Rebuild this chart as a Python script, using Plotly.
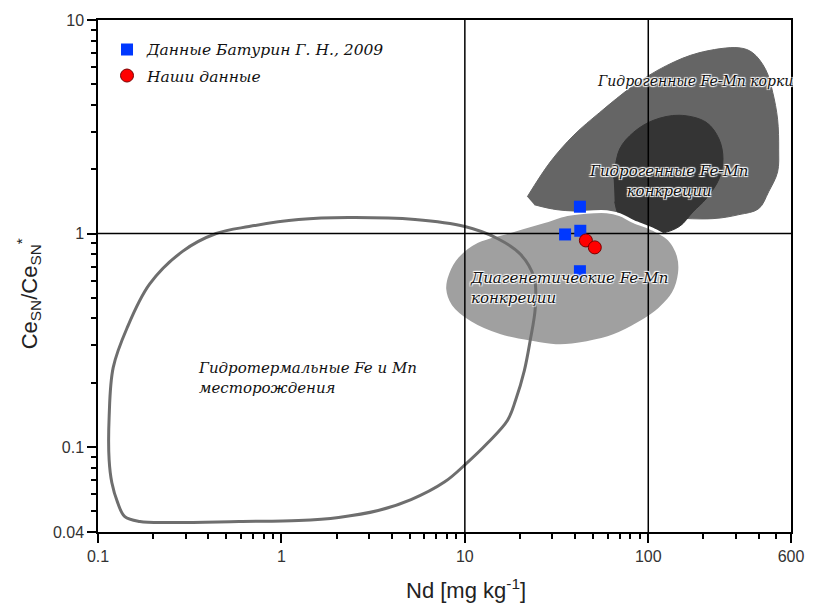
import numpy as np
import plotly.graph_objects as go

# ---- data ----
# Baturin G. N., 2009 (blue squares)
bat_nd = [42.4, 35.2, 42.6, 42.4]
bat_ce = [1.335, 0.99, 1.03, 0.666]
# our data (red circles)
our_nd = [45.7, 51.1]
our_ce = [0.928, 0.861]

# field outlines (Nd, Ce/Ce*)
crust_nd = [21.9, 29.2, 39.3, 54.4, 83.2, 125.5, 189, 312, 371, 437, 477, 507, 514, 507, 453, 400, 312, 225, 111, 67.2, 50.5, 31.8, 23.9]
crust_ce = [1.486, 2.162, 2.89, 3.69, 4.93, 6.11, 7.02, 7.41, 7.02, 5.85, 4.58, 3.43, 2.485, 1.943, 1.568, 1.307, 1.226, 1.174, 1.200, 1.266, 1.266, 1.293, 1.364]

nod_nd = [64.8, 69.8, 83.2, 106.7, 147.6, 206.7, 243, 255.5, 243, 206.7, 175.7, 147.6, 115, 89.6, 71.6, 65.6]
nod_ce = [1.80, 2.485, 2.98, 3.39, 3.58, 3.32, 2.77, 2.23, 1.80, 1.455, 1.266, 1.078, 1.0, 1.022, 1.137, 1.409]

diag_nd = [7.77, 8.07, 9.14, 11.7, 17.7, 27.1, 36.1, 50.5, 59.4, 69.8, 83.2, 106.7, 130, 146, 148, 137, 115, 89.6, 64.8, 46.3, 33.0, 23.9, 15.6, 10.75, 8.38]
diag_ce = [0.549, 0.652, 0.782, 0.918, 1.022, 1.137, 1.226, 1.266, 1.266, 1.226, 1.137, 1.044, 0.938, 0.782, 0.652, 0.526, 0.443, 0.3815, 0.332, 0.308, 0.298, 0.308, 0.332, 0.3815, 0.4575]

hydro_nd = [0.140, 0.169, 0.255, 0.588, 1.24, 2.05, 3.37, 5.09, 7.77, 10.0, 13.3, 17.1, 18.9, 21.1, 22.7, 24.2, 23.9, 20.1, 15.05, 10.0, 5.35, 2.32, 1.24, 0.666, 0.441, 0.289, 0.191, 0.144, 0.121, 0.115, 0.115, 0.119, 0.128, 0.140]
hydro_ce = [0.0472, 0.0448, 0.0443, 0.0448, 0.0453, 0.0468, 0.0504, 0.0567, 0.0687, 0.0825, 0.1044, 0.1335, 0.1655, 0.228, 0.3146, 0.448, 0.618, 0.799, 0.948, 1.078, 1.162, 1.187, 1.162, 1.078, 1.0, 0.825, 0.579, 0.361, 0.2355, 0.1379, 0.0870, 0.0680, 0.0549, 0.0472]

# reference lines
vlines_nd = [10, 100]
hline_ce = 1

x_range = [0.1, 600]
y_range = [0.04, 10]
x_ticks = [0.1, 1, 10, 100, 600]
x_ticklabels = ["0.1", "1", "10", "100", "600"]
y_ticks = [0.04, 0.1, 1, 10]
y_ticklabels = ["0.04", "0.1", "1", "10"]

x_minor = [m * 10.0 ** d for d in range(-1, 3) for m in range(2, 10) if m * 10.0 ** d < 600]
y_minor = [m * 10.0 ** d for d in range(-2, 1) for m in range(2, 10) if 0.04 < m * 10.0 ** d < 10]

SERIF = "DejaVu Serif"
SANS = "Liberation Sans, Arial, sans-serif"
HALO = "1px 1px 1px #fff, -1px -1px 1px #fff, 1px -1px 1px #fff, -1px 1px 1px #fff"

fig = go.Figure()

fig.add_trace(go.Scatter(x=crust_nd, y=crust_ce, mode="lines", fill="toself",
                         fillcolor="#656565", line=dict(color="#656565", width=1, shape="spline"),
                         showlegend=False, hoverinfo="skip"))
fig.add_trace(go.Scatter(x=nod_nd, y=nod_ce, mode="lines", fill="toself",
                         fillcolor="#343434", line=dict(color="#343434", width=1, shape="spline"),
                         showlegend=False, hoverinfo="skip"))
fig.add_trace(go.Scatter(x=diag_nd + diag_nd[:1], y=diag_ce + diag_ce[:1], mode="lines", fill="toself",
                         fillcolor="#a0a0a0", line=dict(color="#ffffff", width=3, shape="spline"),
                         showlegend=False, hoverinfo="skip"))
fig.add_trace(go.Scatter(x=hydro_nd, y=hydro_ce, mode="lines",
                         line=dict(color="#6e6e6e", width=3, shape="spline"),
                         showlegend=False, hoverinfo="skip"))

for v in vlines_nd:
    fig.add_trace(go.Scatter(x=[v, v], y=y_range, mode="lines",
                             line=dict(color="#000000", width=1.5),
                             showlegend=False, hoverinfo="skip"))
fig.add_trace(go.Scatter(x=x_range, y=[hline_ce, hline_ce], mode="lines",
                         line=dict(color="#000000", width=1.5),
                         showlegend=False, hoverinfo="skip"))

fig.add_trace(go.Scatter(x=bat_nd, y=bat_ce, mode="markers", name="Данные Батурин Г. Н., 2009",
                         legendgroup="a",
                         marker=dict(symbol="square", size=12, color="#0038ff", line=dict(width=0))))
fig.add_trace(go.Scatter(x=our_nd, y=our_ce, mode="markers", name="Наши данные",
                         legendgroup="b",
                         marker=dict(symbol="circle", size=13, color="#ff0000",
                                     line=dict(width=1, color="#7a0000"))))

def lab(text, x, y, xanchor, align, size=15):
    fig.add_annotation(text=text, x=np.log10(x), y=np.log10(y), xref="x", yref="y",
                       xanchor=xanchor, yanchor="middle", align=align, showarrow=False,
                       font=dict(family=SERIF, size=size, color="#111111", style="italic",
                                 shadow=HALO))

lab("Гидрогенные Fe-Mn корки", 51.1, 5.2, "left", "left", size=14)
lab("Гидрогенные Fe-Mn<br>конкреции", 128.6, 1.764, "center", "center")
lab("Диагенетические Fe-Mn<br>конкреции", 10.4, 0.555, "left", "left")
lab("Гидротермальные Fe и Mn<br>месторождения", 0.344, 0.2116, "left", "left")

# axis titles
fig.add_annotation(text="Nd [mg kg<sup>-1</sup>]", xref="paper", yref="paper",
                   x=0.531, y=-0.111, xanchor="center", yanchor="middle", showarrow=False,
                   font=dict(family=SANS, size=22, color="#222222"))
fig.add_annotation(text="Ce<sub>SN</sub>/Ce<sub>SN</sub><sup>*</sup>", xref="paper", yref="paper",
                   x=-0.099, y=0.465, xanchor="center", yanchor="middle", textangle=-90,
                   showarrow=False, font=dict(family=SANS, size=22, color="#222222"))

axis_common = dict(type="log", showline=True, linecolor="#000000", linewidth=1.5, mirror=True,
                   showgrid=False, zeroline=False, ticks="outside", ticklen=9, tickwidth=1.5,
                   tickcolor="#000000", tickmode="array",
                   tickfont=dict(family=SANS, size=16, color="#333333"))

fig.update_xaxes(**axis_common, range=[np.log10(x_range[0]), np.log10(x_range[1])],
                 tickvals=x_ticks, ticktext=x_ticklabels,
                 minor=dict(tickmode="array", tickvals=x_minor, ticks="outside", ticklen=5,
                            tickwidth=1.5, tickcolor="#000000"))
fig.update_yaxes(**axis_common, range=[np.log10(y_range[0]), np.log10(y_range[1])],
                 tickvals=y_ticks, ticktext=y_ticklabels,
                 minor=dict(tickmode="array", tickvals=y_minor, ticks="outside", ticklen=5,
                            tickwidth=1.5, tickcolor="#000000"))

fig.update_layout(
    width=816, height=612,
    margin=dict(l=98, r=21, t=17, b=80),
    paper_bgcolor="#ffffff", plot_bgcolor="#ffffff",
    showlegend=True,
    legend=dict(x=0.013, y=0.975, xanchor="left", yanchor="top",
                bgcolor="rgba(0,0,0,0)", borderwidth=0, tracegroupgap=3,
                font=dict(family=SERIF, size=15.5, color="#111111", style="italic")),
)

fig.write_html("out.html")
